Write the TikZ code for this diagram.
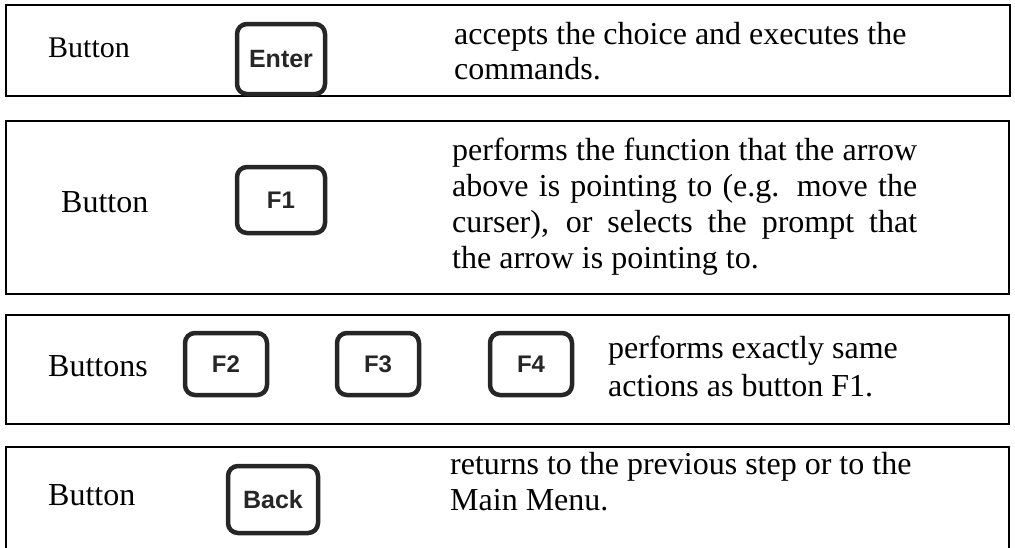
\documentclass[tikz,border=0pt]{standalone}
\usepackage{fontspec}
\setmainfont{Liberation Serif}
\newfontfamily\keyfont{Liberation Sans}
\begin{document}
\begin{tikzpicture}[x=1pt,y=-1pt,
  frame/.style={draw=black, line width=2pt, inner sep=0pt},
  txt/.style={anchor=base west, inner sep=0pt, font=\fontsize{32}{36}\selectfont},
  key/.style={draw=black!85, line width=4.5pt, rounded corners=10pt, inner sep=0pt,
    font=\keyfont\bfseries\fontsize{25}{25}\selectfont, text=black!85},
  fkey/.style={key, font=\keyfont\bfseries\fontsize{24}{24}\selectfont},
]
\useasboundingbox (0,0) rectangle (1015,547);
% frames
\node[frame, minimum width=1004pt, minimum height=91pt] (row1) at (508,50.5) {};
\node[frame, minimum width=1003pt, minimum height=173pt] (row2) at (507.5,207.5) {};
\node[frame, minimum width=1003pt, minimum height=109pt] (row3) at (507.5,369.5) {};
\node[frame, minimum width=1003pt, minimum height=113pt] (row4) at (507.5,503.5) {};
% row 1
\node[txt, font=\fontsize{30}{36}\selectfont] (b1) at (48,57) {Button};
\node[key, minimum width=88pt, minimum height=70pt] (enter) at (281,59) {Enter};
\node[txt] (t1a) at (454,44) {accepts the choice and executes the};
\node[txt] (t1b) at (454,79) {commands.};
% row 2
\node[txt] (b2) at (61,212) {Button};
\node[fkey, minimum width=88pt, minimum height=66pt] (f1) at (281,200) {F1};
\node[txt] (t2a) at (452,160) {\makebox[465pt][s]{performs the function that the arrow}};
\node[txt] (t2b) at (452,196) {\makebox[465pt][s]{above is pointing to (e.g. move the}};
\node[txt] (t2c) at (452,232) {\makebox[465pt][s]{curser), or selects the prompt that}};
\node[txt] (t2d) at (452,268) {the arrow is pointing to.};
% row 3
\node[txt] (b3) at (48,376) {Buttons};
\node[fkey, minimum width=82pt, minimum height=62pt] (f2) at (226,364) {F2};
\node[fkey, minimum width=82pt, minimum height=62pt] (f3) at (378,364) {F3};
\node[fkey, minimum width=82pt, minimum height=62pt] (f4) at (531,364) {F4};
\node[txt] (t3a) at (608,358) {performs exactly same};
\node[txt] (t3b) at (608,396) {actions as button F1.};
% row 4
\node[txt] (b4) at (48,505) {Button};
\node[key, minimum width=90pt, minimum height=67pt] (back) at (273,499.5) {Back};
\node[txt] (t4a) at (450,474) {returns to the previous step or to the};
\node[txt] (t4b) at (450,510) {Main Menu.};
\end{tikzpicture}
\end{document}
